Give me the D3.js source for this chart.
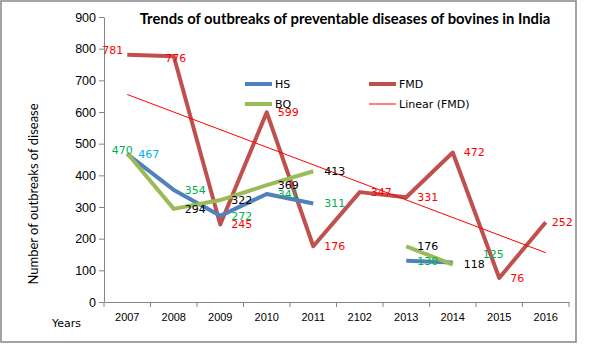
<!DOCTYPE html>
<html>
<head>
<meta charset="utf-8">
<script src="https://cdn.jsdelivr.net/npm/d3@7"></script>
<style>
  body { margin: 0; background: #fff; }
</style>
</head>
<body>
<div id="chart"></div>
<script>
// Data
var years = ["2007", "2008", "2009", "2010", "2011", "2102", "2013", "2014", "2015", "2016"];
var hs  = [467, 354, 272, 341, 311, null, 130, 125, null, null];
var bq  = [470, 294, 322, 369, 413, null, 176, 118, null, null];
var fmd = [781, 776, 245, 599, 176, 347, 331, 472, 76, 252];
var yTicks = [0, 100, 200, 300, 400, 500, 600, 700, 800, 900];

var width = 593, height = 351;
var margin = { top: 17, right: 24, bottom: 49, left: 104 };
var plotW = 569 - margin.left;
var plotH = 302 - margin.top;

var svg = d3.select("#chart").append("svg")
  .attr("width", width)
  .attr("height", height)
  .style("font-family", "DejaVu Sans, sans-serif");

// outer chart border
svg.append("rect")
  .attr("x", 1).attr("y", 1)
  .attr("width", 575).attr("height", 341)
  .attr("fill", "#fff")
  .attr("stroke", "#868686")
  .attr("stroke-width", 1.5);

var g = svg.append("g")
  .attr("transform", "translate(" + margin.left + "," + margin.top + ")");

var x = d3.scaleBand().domain(years).range([0, plotW]);
var y = d3.scaleLinear().domain([0, 900]).range([plotH, 0]);
var cx = function (i) { return x(years[i]) + x.bandwidth() / 2; };

// y axis
var yAxis = g.append("g")
  .call(d3.axisLeft(y).tickValues(yTicks).tickSize(5).tickSizeOuter(0).tickPadding(3));
yAxis.select(".domain").attr("stroke", "#868686");
yAxis.selectAll(".tick line").attr("stroke", "#868686");
yAxis.selectAll("text").style("font-size", "12.5px").attr("fill", "#000");

// x axis with ticks on band boundaries
var xAxis = g.append("g")
  .attr("transform", "translate(0," + plotH + ")")
  .call(d3.axisBottom(x).tickSize(0).tickPadding(11));
xAxis.select(".domain").attr("stroke", "#868686");
xAxis.selectAll("text").style("font-size", "11px").attr("fill", "#000");
xAxis.selectAll(".bound")
  .data(d3.range(years.length + 1))
  .enter().append("line")
  .attr("x1", function (i) { return i * x.step(); })
  .attr("x2", function (i) { return i * x.step(); })
  .attr("y1", 0).attr("y2", 5)
  .attr("stroke", "#868686");

// trendline for FMD (least squares)
var n = fmd.length;
var mx = d3.mean(d3.range(n)), my = d3.mean(fmd);
var slope = d3.sum(d3.range(n), function (i) { return (i - mx) * (fmd[i] - my); }) /
            d3.sum(d3.range(n), function (i) { return (i - mx) * (i - mx); });
var icpt = my - slope * mx;

var line = d3.line()
  .defined(function (d) { return d != null; })
  .x(function (d, i) { return cx(i); })
  .y(function (d) { return y(d); });

g.append("path")
  .datum(fmd)
  .attr("fill", "none")
  .attr("stroke", "#c0504d")
  .attr("stroke-width", 4)
  .attr("stroke-linejoin", "round")
  .attr("d", line);

g.append("path")
  .datum(hs)
  .attr("fill", "none")
  .attr("stroke", "#4f81bd")
  .attr("stroke-width", 4)
  .attr("stroke-linejoin", "round")
  .attr("d", line);

g.append("path")
  .datum(bq)
  .attr("fill", "none")
  .attr("stroke", "#9bbb59")
  .attr("stroke-width", 4)
  .attr("stroke-linejoin", "round")
  .attr("d", line);

g.append("line")
  .attr("x1", cx(0)).attr("y1", y(icpt))
  .attr("x2", cx(n - 1)).attr("y2", y(icpt + slope * (n - 1)))
  .attr("stroke", "#ff0000")
  .attr("stroke-width", 1);

// data labels; default is to the right of the point
function labels(values, color, offsets) {
  values.forEach(function (v, i) {
    if (v == null) return;
    var o = offsets[i] || [11, 0, "start"];
    g.append("text")
      .attr("x", cx(i) + o[0])
      .attr("y", y(v) + o[1])
      .attr("dy", "0.35em")
      .attr("text-anchor", o[2])
      .attr("fill", typeof color === "function" ? color(i) : color)
      .style("font-size", "11px")
      .text(v);
  });
}

labels(fmd, "#ff0000", { 0: [-4, -5, "end"], 1: [2, 2, "middle"], 9: [6, 0, "start"] });
labels(hs, function (i) { return i === 0 ? "#00b0f0" : "#00b050"; }, { 7: [30, -8, "start"] });
labels(bq, function (i) { return i === 0 ? "#00b050" : "#000"; }, { 0: [-5, -3, "middle"] });

// legend
var legend = [
  { name: "HS", color: "#4f81bd", w: 4, x: 245, y: 84 },
  { name: "BQ", color: "#9bbb59", w: 4, x: 245, y: 104 },
  { name: "FMD", color: "#c0504d", w: 4, x: 369, y: 84 },
  { name: "Linear (FMD)", color: "#ff0000", w: 1, x: 369, y: 104 }
];
var lg = svg.selectAll(".legend").data(legend).enter().append("g");
lg.append("line")
  .attr("x1", function (d) { return d.x; })
  .attr("x2", function (d) { return d.x + 27; })
  .attr("y1", function (d) { return d.y; })
  .attr("y2", function (d) { return d.y; })
  .attr("stroke", function (d) { return d.color; })
  .attr("stroke-width", function (d) { return d.w; });
lg.append("text")
  .attr("x", function (d) { return d.x + 30; })
  .attr("y", function (d) { return d.y; })
  .attr("dy", "0.35em")
  .style("font-size", "11px")
  .text(function (d) { return d.name; });

// title
svg.append("text")
  .attr("x", 345)
  .attr("y", 24)
  .attr("text-anchor", "middle")
  .style("font-family", "Lato, sans-serif")
  .style("font-weight", "bold")
  .style("font-size", "14.8px")
  .text("Trends of outbreaks of preventable diseases of bovines in India");

// y axis title
svg.append("text")
  .attr("transform", "translate(38,194) rotate(-90)")
  .attr("text-anchor", "middle")
  .style("font-family", "Lato, sans-serif")
  .style("font-size", "13px")
  .text("Number of outbreaks of disease");

svg.append("text")
  .attr("x", 52)
  .attr("y", 327)
  .style("font-size", "11px")
  .text("Years");
</script>
</body>
</html>
